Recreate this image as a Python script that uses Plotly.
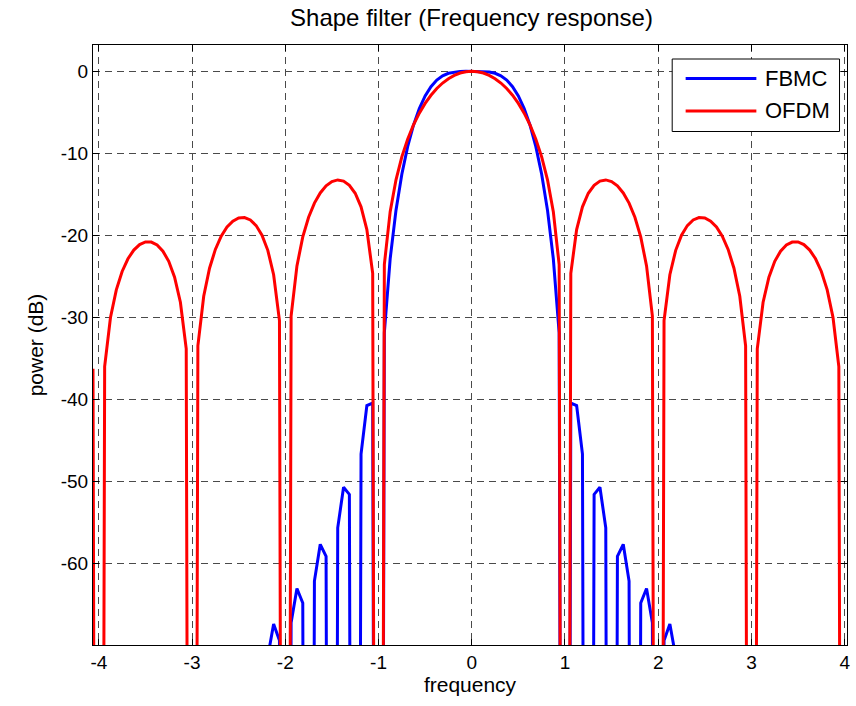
import plotly.graph_objects as go

# Normalised frequency grid (subcarrier spacings), step 1/16
FREQ = [
    -4.0625, -4.0, -3.9375, -3.875, -3.8125, -3.75, -3.6875, -3.625, -3.5625, -3.5,
    -3.4375, -3.375, -3.3125, -3.25, -3.1875, -3.125, -3.0625, -3.0, -2.9375, -2.875,
    -2.8125, -2.75, -2.6875, -2.625, -2.5625, -2.5, -2.4375, -2.375, -2.3125, -2.25,
    -2.1875, -2.125, -2.0625, -2.0, -1.9375, -1.875, -1.8125, -1.75, -1.6875, -1.625,
    -1.5625, -1.5, -1.4375, -1.375, -1.3125, -1.25, -1.1875, -1.125, -1.0625, -1.0,
    -0.9375, -0.875, -0.8125, -0.75, -0.6875, -0.625, -0.5625, -0.5, -0.4375, -0.375,
    -0.3125, -0.25, -0.1875, -0.125, -0.0625, 0.0, 0.0625, 0.125, 0.1875, 0.25,
    0.3125, 0.375, 0.4375, 0.5, 0.5625, 0.625, 0.6875, 0.75, 0.8125, 0.875,
    0.9375, 1.0, 1.0625, 1.125, 1.1875, 1.25, 1.3125, 1.375, 1.4375, 1.5,
    1.5625, 1.625, 1.6875, 1.75, 1.8125, 1.875, 1.9375, 2.0, 2.0625, 2.125,
    2.1875, 2.25, 2.3125, 2.375, 2.4375, 2.5, 2.5625, 2.625, 2.6875, 2.75,
    2.8125, 2.875, 2.9375, 3.0, 3.0625, 3.125, 3.1875, 3.25, 3.3125, 3.375,
    3.4375, 3.5, 3.5625, 3.625, 3.6875, 3.75, 3.8125, 3.875, 3.9375, 4.0,
]

# OFDM (rectangular pulse) power response in dB; nulls carry a very low finite value
OFDM_DB = [
    -36.31, -300, -36.04, -30.05, -26.67, -24.43, -22.88, -21.82, -21.15, -20.82,
    -20.84, -21.20, -21.95, -23.19, -25.12, -28.18, -33.86, -300, -33.50, -27.46,
    -24.03, -21.74, -20.13, -19.01, -18.29, -17.90, -17.85, -18.14, -18.83, -20.00,
    -21.85, -24.83, -30.43, -300, -29.88, -23.75, -20.21, -17.81, -16.09, -14.85,
    -13.99, -13.46, -13.26, -13.40, -13.91, -14.89, -16.54, -19.31, -24.66, -300,
    -23.58, -17.13, -13.25, -10.45, -8.29, -6.55, -5.11, -3.92, -2.93, -2.11,
    -1.44, -0.91, -0.51, -0.22, -0.06, 0.00, -0.06, -0.22, -0.51, -0.91,
    -1.44, -2.11, -2.93, -3.92, -5.11, -6.55, -8.29, -10.45, -13.25, -17.13,
    -23.58, -300, -24.66, -19.31, -16.54, -14.89, -13.91, -13.40, -13.26, -13.46,
    -13.99, -14.85, -16.09, -17.81, -20.21, -23.75, -29.88, -300, -30.43, -24.83,
    -21.85, -20.00, -18.83, -18.14, -17.85, -17.90, -18.29, -19.01, -20.13, -21.74,
    -24.03, -27.46, -33.50, -300, -33.86, -28.18, -25.12, -23.19, -21.95, -21.20,
    -20.84, -20.82, -21.15, -21.82, -22.88, -24.43, -26.67, -30.05, -36.04, -300,
]

# FBMC prototype filter power response in dB, for |f| <= 2.25 (lower values fall off the axes)
FBMC_DB = [
    -300, -71.42, -67.45, -69.45, -300, -67.28, -63.10, -64.87, -300, -62.20,
    -57.72, -59.18, -300, -55.71, -50.75, -51.63, -300, -46.71, -40.79, -40.48,
    -300, -31.91, -22.88, -16.95, -12.57, -9.20, -6.58, -4.55, -3.01, -1.88,
    -1.08, -0.56, -0.25, -0.09, -0.02, 0.00, 0.00, 0.00, -0.02, -0.09,
    -0.25, -0.56, -1.08, -1.88, -3.01, -4.55, -6.58, -9.20, -12.57, -16.95,
    -22.88, -31.91, -300, -40.48, -40.79, -46.71, -300, -51.63, -50.75, -55.71,
    -300, -59.18, -57.72, -62.20, -300, -64.87, -63.10, -67.28, -300, -69.45,
    -67.45, -71.42, -300,
]
FBMC_FREQ = FREQ[29:102]

X_TICKS = [-4, -3, -2, -1, 0, 1, 2, 3, 4]
X_TICK_LABELS = ["-4", "-3", "-2", "-1", "0", "1", "2", "3", "4"]
Y_TICKS = [-60, -50, -40, -30, -20, -10, 0]
Y_TICK_LABELS = ["-60", "-50", "-40", "-30", "-20", "-10", "0"]

SERIES = ["FBMC", "OFDM"]
COLORS = {"FBMC": "#0000ff", "OFDM": "#ff0000"}

FONT = "Liberation Sans, Arial, Helvetica, sans-serif"
W, H = 856, 706
ML, MR, MT, MB = 93, 6, 45, 61
PW, PH = W - ML - MR, H - MT - MB

fig = go.Figure()
fig.add_trace(go.Scatter(x=FBMC_FREQ, y=FBMC_DB, mode="lines", name="FBMC",
                         line=dict(color=COLORS["FBMC"], width=3)))
fig.add_trace(go.Scatter(x=FREQ, y=OFDM_DB, mode="lines", name="OFDM",
                         line=dict(color=COLORS["OFDM"], width=3)))

axis_common = dict(
    showline=True, linecolor="black", linewidth=1, mirror="ticks",
    ticks="inside", ticklen=6, tickcolor="black", tickwidth=1,
    showgrid=True, gridcolor="#4a4a4a", gridwidth=1, griddash="7px,5px",
    zeroline=False, tickfont=dict(family=FONT, size=19, color="black"),
)

fig.update_xaxes(range=[-4.0625, 4.025], tickmode="array", tickvals=X_TICKS,
                 ticktext=X_TICK_LABELS,
                 title=dict(text="frequency", font=dict(family=FONT, size=21, color="black"),
                            standoff=3),
                 **axis_common)
fig.update_yaxes(range=[-70, 3.2], tickmode="array", tickvals=Y_TICKS,
                 ticktext=Y_TICK_LABELS,
                 title=dict(text="power (dB)", font=dict(family=FONT, size=21, color="black"),
                            standoff=11),
                 **axis_common)


def px_x(p):
    return (p - ML) / PW


def px_y(p):
    return (H - MB - p) / PH


# Legend box drawn in plot-area coordinates
shapes = [dict(type="rect", xref="paper", yref="paper",
               x0=px_x(674.5), x1=px_x(842.5), y0=px_y(131.5), y1=px_y(59),
               line=dict(color="black", width=1), fillcolor="white", layer="above")]
annotations = []
for name, ypix in zip(SERIES, [78.5, 111]):
    shapes.append(dict(type="line", xref="paper", yref="paper",
                       x0=px_x(688), x1=px_x(759), y0=px_y(ypix), y1=px_y(ypix),
                       line=dict(color=COLORS[name], width=3), layer="above"))
    annotations.append(dict(xref="paper", yref="paper", x=px_x(766), y=px_y(ypix),
                            xanchor="left", yanchor="middle", text=name, showarrow=False,
                            font=dict(family=FONT, size=22, color="black")))

fig.update_layout(
    width=W, height=H,
    margin=dict(l=ML, r=MR, t=MT, b=MB),
    paper_bgcolor="white", plot_bgcolor="white",
    showlegend=False,
    title=dict(text="Shape filter (Frequency response)", x=(ML + PW / 2) / W, xanchor="center",
               y=1 - 18 / H, yanchor="middle", font=dict(family=FONT, size=24, color="black")),
    shapes=shapes, annotations=annotations,
)

fig.write_html("out.html")
